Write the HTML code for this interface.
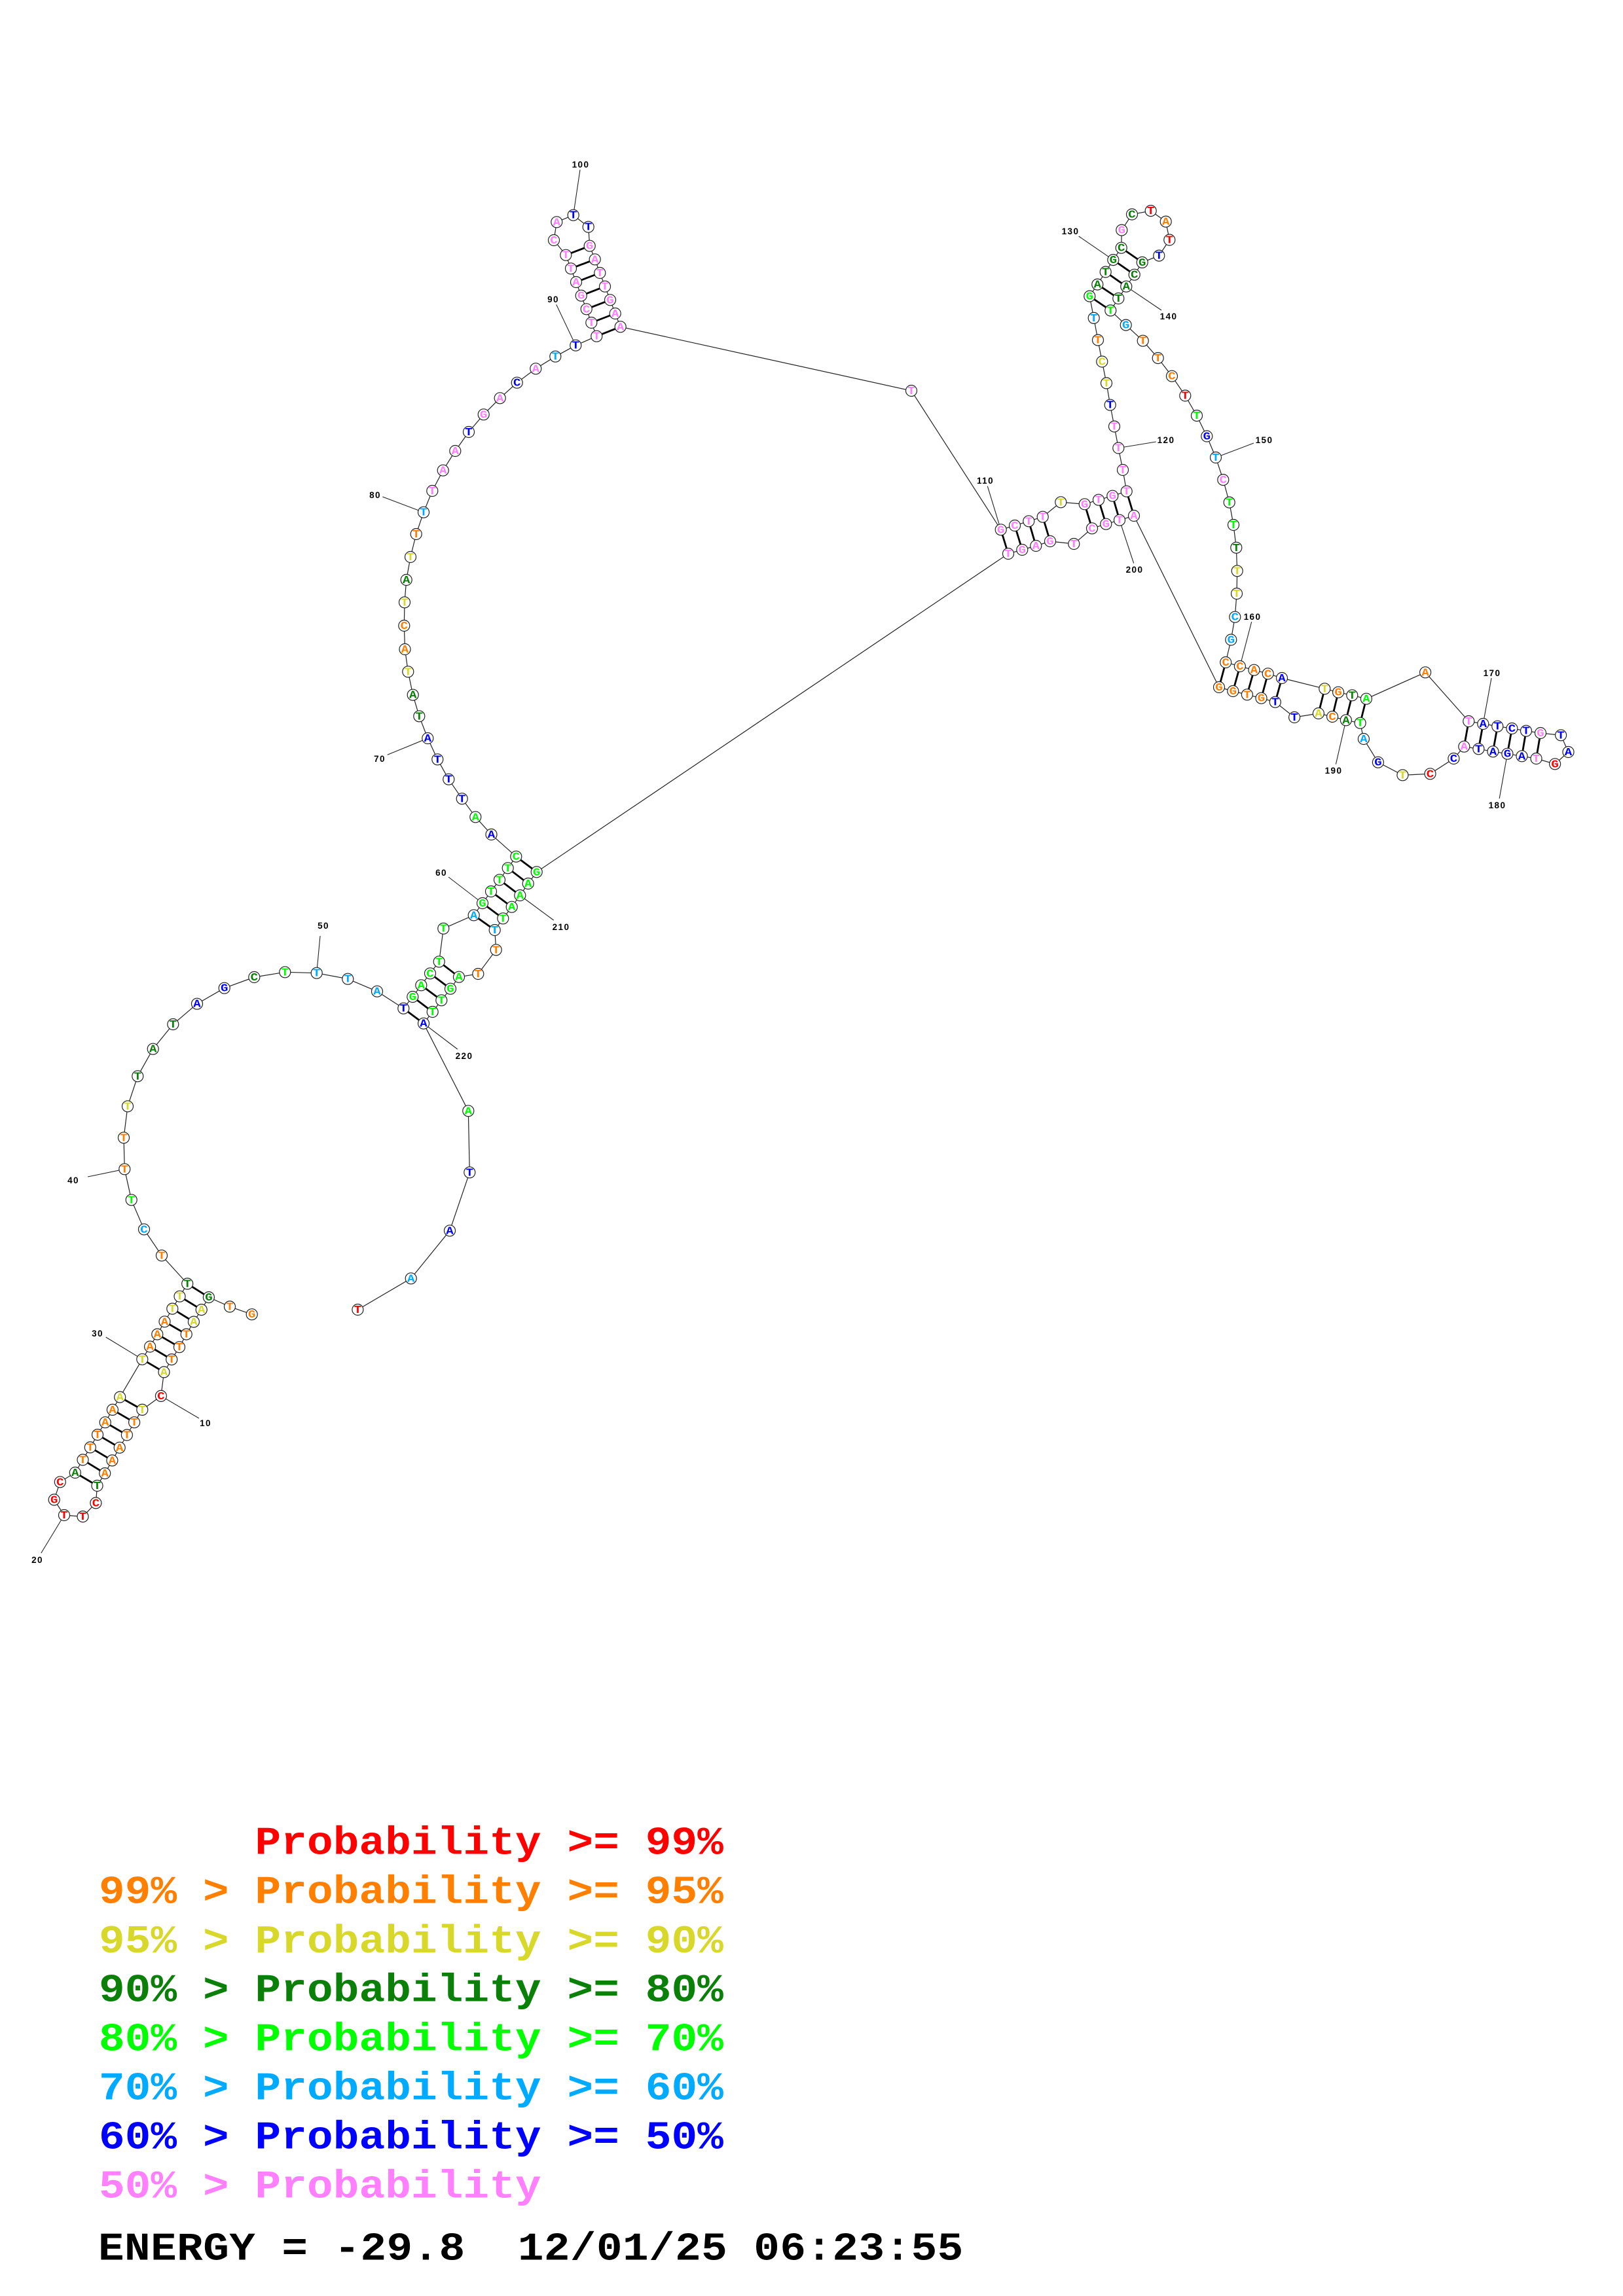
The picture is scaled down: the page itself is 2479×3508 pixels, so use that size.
<!DOCTYPE html>
<html><head><meta charset="utf-8"><title>RNA structure</title>
<style>
html,body{margin:0;padding:0;background:#fff}
svg{display:block}
.bb{fill:none;stroke:#222;stroke-width:1.2}
.pr{stroke:#000;stroke-width:2.8;fill:none}
.ld{stroke:#222;stroke-width:1.1;fill:none}
.n circle{fill:#fff;stroke:#222;stroke-width:1.2}
.n text{font:bold 19px "Liberation Mono",monospace;text-anchor:middle;transform:translateY(.7px) scale(1,.85)}
.r text{fill:#f00}.o text{fill:#ff7f00}.y text{fill:#d8d82a}.d text{fill:#0a8008}.g text{fill:#0f0}.l text{fill:#0af}.b text{fill:#00f}.p text{fill:#ff80ff}
.lb{font:bold 13.5px "Liberation Sans",sans-serif;text-anchor:middle;letter-spacing:1.4px;fill:#000}
.lg{font:bold 66px "Liberation Mono",monospace;white-space:pre;letter-spacing:.15px}
</style></head><body>
<svg width="2479" height="3508" viewBox="0 0 2479 3508" xmlns="http://www.w3.org/2000/svg">
<rect width="2479" height="3508" fill="#fff"/>
<polyline class="bb" points="384.7,2008.2 351,1996.4 318.9,1982.1 307.7,2001.1 295.9,2019.6 284.7,2038.6 274,2058.2 262.2,2077.1 250.5,2096.4 245.9,2132.9 217.3,2153.9 205.1,2173.2 193.9,2192.5 182.7,2211.8 171.4,2231.4 160.2,2251.1 148.5,2270 146.4,2296.4 126.5,2317.1 98,2315 82.7,2291.4 91.8,2264.3 114.8,2250 126.5,2230.4 137.8,2211.4 149,2192.1 160.7,2173.2 171.9,2153.9 183.2,2134.6 217.3,2076.8 229.1,2057.5 240.3,2038.6 251.5,2019.3 263.3,1999.6 274.5,1980.7 286.2,1961.4 247,1918.3 220,1878.3 200.7,1833.3 190.3,1786.3 189,1738.3 195,1690.3 210.3,1644.3 233.7,1602.7 264.3,1565 301,1533.7 342.7,1509.7 388.3,1493 435.3,1485.3 483.7,1486.7 531.3,1495.7 576,1514.7 616.3,1540.7 630.3,1523 643.3,1505.3 657,1487.3 670.7,1469.3 677.3,1418.7 723.7,1398.3 737,1380 750,1362 763,1344.3 775.7,1326.3 788.3,1308.7 750.5,1275 726.3,1248.3 705.7,1220.3 685.3,1190.7 668.3,1160.3 653.3,1128 640.3,1094.3 630.7,1061.7 623.3,1026.3 618.5,992 617.3,956 618,920.3 620.7,886 627,851 635.7,816 647,782.7 660.3,750 676.7,718.7 695.3,689 716,660 738.7,633.3 763.7,608.3 789.7,584.7 818.3,563.3 848.3,544.7 879.3,527.7 911.3,513.7 903.3,493 895.7,472.3 887.7,451.7 880,431 872,410.3 864.3,389.7 846,367 850.3,339.3 875.7,328.7 898.7,346.7 900.7,375.7 908.7,396.3 916.3,417 924,437.7 932,458.3 939.7,479 947.7,499.3 1392,597 1528.7,809.3 1550,803 1571.3,796.3 1592.7,789.7 1620.3,767.3 1656.7,770.3 1678,763.7 1699.3,757.7 1720.7,750.7 1715,718 1708.3,684.5 1702,651.6 1695.7,618.7 1690,585.4 1683.3,552.5 1677,519.6 1670.7,485.9 1664.3,452.6 1676.3,434.6 1688.7,415.5 1700.3,397.1 1712.7,378.7 1713.3,351.6 1729,327.5 1757.7,322.1 1780.7,338.6 1786.3,366.5 1770.3,390.6 1744.7,400.9 1732.7,419.7 1720.3,437.7 1708.3,456 1696.3,474.4 1719.7,496.6 1745.7,520.7 1768.7,547.1 1790,574.7 1810.3,604.5 1828,635.1 1843.3,666.5 1857,699 1868.3,733.1 1877.7,767.6 1884,802 1888.3,836.8 1889.7,872.3 1889,907 1886.3,942.7 1880.3,977.5 1872.2,1012 1893.9,1018 1915.5,1023.7 1936.7,1029.3 1958,1036 2023.3,1052.3 2044.1,1057.7 2065.3,1062.3 2086.9,1067.7 2177.1,1027.3 2243.3,1102 2265.3,1106 2287.3,1109.7 2309.4,1113 2331,1116.7 2353,1120 2384.1,1123.3 2395.5,1149 2375.1,1167.3 2346.5,1159 2324.5,1155.3 2302.4,1151.7 2280.4,1148.3 2258.4,1144.3 2236.3,1140.7 2220.4,1159 2184.5,1182.3 2142.4,1184.3 2104.9,1164.7 2082.9,1129 2077.6,1104.7 2055.9,1100.3 2035.1,1095 2013.9,1090 1977.1,1096 1947.8,1072.7 1926.5,1066.7 1904.9,1061.3 1883.3,1056 1862,1050 1732,788 1710,794.7 1689.3,800.7 1668,807.3 1640.3,831 1604,827 1582.3,834 1561.3,840 1540,846 819.7,1332.3 806.7,1350 794.3,1368 781.7,1385.7 768.3,1403.3 755.7,1421 757.7,1451.3 730.3,1488 701,1492.7 688,1510.7 674.3,1528.3 660.7,1546 647,1563.7 715.3,1697.3 717.3,1791.3 687,1880.3 627.7,1953.3 546.4,2001"/>
<path class="pr" d="M318.9 1982.1L286.2 1961.4M307.7 2001.1L274.5 1980.7M295.9 2019.6L263.3 1999.6M284.7 2038.6L251.5 2019.3M274 2058.2L240.3 2038.6M262.2 2077.1L229.1 2057.5M250.5 2096.4L217.3 2076.8M217.3 2153.9L183.2 2134.6M205.1 2173.2L171.9 2153.9M193.9 2192.5L160.7 2173.2M182.7 2211.8L149 2192.1M171.4 2231.4L137.8 2211.4M160.2 2251.1L126.5 2230.4M148.5 2270L114.8 2250M616.3 1540.7L647 1563.7M630.3 1523L660.7 1546M643.3 1505.3L674.3 1528.3M657 1487.3L688 1510.7M670.7 1469.3L701 1492.7M723.7 1398.3L755.7 1421M737 1380L768.3 1403.3M750 1362L781.7 1385.7M763 1344.3L794.3 1368M775.7 1326.3L806.7 1350M788.3 1308.7L819.7 1332.3M911.3 513.7L947.7 499.3M903.3 493L939.7 479M895.7 472.3L932 458.3M887.7 451.7L924 437.7M880 431L916.3 417M872 410.3L908.7 396.3M864.3 389.7L900.7 375.7M1528.7 809.3L1540 846M1550 803L1561.3 840M1571.3 796.3L1582.3 834M1592.7 789.7L1604 827M1656.7 770.3L1668 807.3M1678 763.7L1689.3 800.7M1699.3 757.7L1710 794.7M1720.7 750.7L1732 788M1664.3 452.6L1696.3 474.4M1676.3 434.6L1708.3 456M1688.7 415.5L1720.3 437.7M1700.3 397.1L1732.7 419.7M1712.7 378.7L1744.7 400.9M1872.2 1012L1862 1050M1893.9 1018L1883.3 1056M1915.5 1023.7L1904.9 1061.3M1936.7 1029.3L1926.5 1066.7M1958 1036L1947.8 1072.7M2023.3 1052.3L2013.9 1090M2044.1 1057.7L2035.1 1095M2065.3 1062.3L2055.9 1100.3M2086.9 1067.7L2077.6 1104.7M2243.3 1102L2236.3 1140.7M2265.3 1106L2258.4 1144.3M2287.3 1109.7L2280.4 1148.3M2309.4 1113L2302.4 1151.7M2331 1116.7L2324.5 1155.3M2353 1120L2346.5 1159"/>
<path class="ld" d="M245.9 2132.9L304 2167M98 2315L62.8 2373M217.3 2076.8L161.7 2043M190.3 1786.3L134 1798M483.7 1486.7L489 1430M737 1380L685 1340M653.3 1128L591.7 1153.3M647 782.7L584.3 759M879.3 527.7L849.7 465.3M875.7 328.7L886 259.3M1528.7 809.3L1508.3 742.7M1708.3 684.5L1765.7 675M1700.3 397.1L1647.7 361M1720.3 437.7L1774 474M1857 699L1915 677M1893.9 1018L1911.7 950M2265.3 1106L2278 1036M2302.4 1151.7L2290.2 1220M2055.9 1100.3L2040.4 1167.7M1710 794.7L1731.7 860.7M794.3 1368L845.7 1406M647 1563.7L698.7 1603"/>
<g>
<g class="n o" transform="translate(384.7,2008.2)"><circle r="8.5"/><text y="5">G</text></g>
<g class="n o" transform="translate(351,1996.4)"><circle r="8.5"/><text y="5">T</text></g>
<g class="n d" transform="translate(318.9,1982.1)"><circle r="8.5"/><text y="5">G</text></g>
<g class="n y" transform="translate(307.7,2001.1)"><circle r="8.5"/><text y="5">A</text></g>
<g class="n y" transform="translate(295.9,2019.6)"><circle r="8.5"/><text y="5">A</text></g>
<g class="n o" transform="translate(284.7,2038.6)"><circle r="8.5"/><text y="5">T</text></g>
<g class="n o" transform="translate(274,2058.2)"><circle r="8.5"/><text y="5">T</text></g>
<g class="n o" transform="translate(262.2,2077.1)"><circle r="8.5"/><text y="5">T</text></g>
<g class="n y" transform="translate(250.5,2096.4)"><circle r="8.5"/><text y="5">A</text></g>
<g class="n r" transform="translate(245.9,2132.9)"><circle r="8.5"/><text y="5">C</text></g>
<g class="n y" transform="translate(217.3,2153.9)"><circle r="8.5"/><text y="5">T</text></g>
<g class="n o" transform="translate(205.1,2173.2)"><circle r="8.5"/><text y="5">T</text></g>
<g class="n o" transform="translate(193.9,2192.5)"><circle r="8.5"/><text y="5">T</text></g>
<g class="n o" transform="translate(182.7,2211.8)"><circle r="8.5"/><text y="5">A</text></g>
<g class="n o" transform="translate(171.4,2231.4)"><circle r="8.5"/><text y="5">A</text></g>
<g class="n o" transform="translate(160.2,2251.1)"><circle r="8.5"/><text y="5">A</text></g>
<g class="n d" transform="translate(148.5,2270)"><circle r="8.5"/><text y="5">T</text></g>
<g class="n r" transform="translate(146.4,2296.4)"><circle r="8.5"/><text y="5">C</text></g>
<g class="n r" transform="translate(126.5,2317.1)"><circle r="8.5"/><text y="5">T</text></g>
<g class="n r" transform="translate(98,2315)"><circle r="8.5"/><text y="5">T</text></g>
<g class="n r" transform="translate(82.7,2291.4)"><circle r="8.5"/><text y="5">G</text></g>
<g class="n r" transform="translate(91.8,2264.3)"><circle r="8.5"/><text y="5">C</text></g>
<g class="n d" transform="translate(114.8,2250)"><circle r="8.5"/><text y="5">A</text></g>
<g class="n o" transform="translate(126.5,2230.4)"><circle r="8.5"/><text y="5">T</text></g>
<g class="n o" transform="translate(137.8,2211.4)"><circle r="8.5"/><text y="5">T</text></g>
<g class="n o" transform="translate(149,2192.1)"><circle r="8.5"/><text y="5">T</text></g>
<g class="n o" transform="translate(160.7,2173.2)"><circle r="8.5"/><text y="5">A</text></g>
<g class="n o" transform="translate(171.9,2153.9)"><circle r="8.5"/><text y="5">A</text></g>
<g class="n y" transform="translate(183.2,2134.6)"><circle r="8.5"/><text y="5">A</text></g>
<g class="n y" transform="translate(217.3,2076.8)"><circle r="8.5"/><text y="5">T</text></g>
<g class="n o" transform="translate(229.1,2057.5)"><circle r="8.5"/><text y="5">A</text></g>
<g class="n o" transform="translate(240.3,2038.6)"><circle r="8.5"/><text y="5">A</text></g>
<g class="n o" transform="translate(251.5,2019.3)"><circle r="8.5"/><text y="5">A</text></g>
<g class="n y" transform="translate(263.3,1999.6)"><circle r="8.5"/><text y="5">T</text></g>
<g class="n y" transform="translate(274.5,1980.7)"><circle r="8.5"/><text y="5">T</text></g>
<g class="n d" transform="translate(286.2,1961.4)"><circle r="8.5"/><text y="5">T</text></g>
<g class="n o" transform="translate(247,1918.3)"><circle r="8.5"/><text y="5">T</text></g>
<g class="n l" transform="translate(220,1878.3)"><circle r="8.5"/><text y="5">C</text></g>
<g class="n g" transform="translate(200.7,1833.3)"><circle r="8.5"/><text y="5">T</text></g>
<g class="n o" transform="translate(190.3,1786.3)"><circle r="8.5"/><text y="5">T</text></g>
<g class="n o" transform="translate(189,1738.3)"><circle r="8.5"/><text y="5">T</text></g>
<g class="n y" transform="translate(195,1690.3)"><circle r="8.5"/><text y="5">T</text></g>
<g class="n d" transform="translate(210.3,1644.3)"><circle r="8.5"/><text y="5">T</text></g>
<g class="n d" transform="translate(233.7,1602.7)"><circle r="8.5"/><text y="5">A</text></g>
<g class="n d" transform="translate(264.3,1565)"><circle r="8.5"/><text y="5">T</text></g>
<g class="n b" transform="translate(301,1533.7)"><circle r="8.5"/><text y="5">A</text></g>
<g class="n b" transform="translate(342.7,1509.7)"><circle r="8.5"/><text y="5">G</text></g>
<g class="n d" transform="translate(388.3,1493)"><circle r="8.5"/><text y="5">C</text></g>
<g class="n g" transform="translate(435.3,1485.3)"><circle r="8.5"/><text y="5">T</text></g>
<g class="n l" transform="translate(483.7,1486.7)"><circle r="8.5"/><text y="5">T</text></g>
<g class="n l" transform="translate(531.3,1495.7)"><circle r="8.5"/><text y="5">T</text></g>
<g class="n l" transform="translate(576,1514.7)"><circle r="8.5"/><text y="5">A</text></g>
<g class="n b" transform="translate(616.3,1540.7)"><circle r="8.5"/><text y="5">T</text></g>
<g class="n g" transform="translate(630.3,1523)"><circle r="8.5"/><text y="5">G</text></g>
<g class="n g" transform="translate(643.3,1505.3)"><circle r="8.5"/><text y="5">A</text></g>
<g class="n g" transform="translate(657,1487.3)"><circle r="8.5"/><text y="5">C</text></g>
<g class="n g" transform="translate(670.7,1469.3)"><circle r="8.5"/><text y="5">T</text></g>
<g class="n g" transform="translate(677.3,1418.7)"><circle r="8.5"/><text y="5">T</text></g>
<g class="n l" transform="translate(723.7,1398.3)"><circle r="8.5"/><text y="5">A</text></g>
<g class="n g" transform="translate(737,1380)"><circle r="8.5"/><text y="5">G</text></g>
<g class="n g" transform="translate(750,1362)"><circle r="8.5"/><text y="5">T</text></g>
<g class="n g" transform="translate(763,1344.3)"><circle r="8.5"/><text y="5">T</text></g>
<g class="n g" transform="translate(775.7,1326.3)"><circle r="8.5"/><text y="5">T</text></g>
<g class="n g" transform="translate(788.3,1308.7)"><circle r="8.5"/><text y="5">C</text></g>
<g class="n b" transform="translate(750.5,1275)"><circle r="8.5"/><text y="5">A</text></g>
<g class="n g" transform="translate(726.3,1248.3)"><circle r="8.5"/><text y="5">A</text></g>
<g class="n b" transform="translate(705.7,1220.3)"><circle r="8.5"/><text y="5">T</text></g>
<g class="n b" transform="translate(685.3,1190.7)"><circle r="8.5"/><text y="5">T</text></g>
<g class="n b" transform="translate(668.3,1160.3)"><circle r="8.5"/><text y="5">T</text></g>
<g class="n b" transform="translate(653.3,1128)"><circle r="8.5"/><text y="5">A</text></g>
<g class="n d" transform="translate(640.3,1094.3)"><circle r="8.5"/><text y="5">T</text></g>
<g class="n d" transform="translate(630.7,1061.7)"><circle r="8.5"/><text y="5">A</text></g>
<g class="n y" transform="translate(623.3,1026.3)"><circle r="8.5"/><text y="5">T</text></g>
<g class="n o" transform="translate(618.5,992)"><circle r="8.5"/><text y="5">A</text></g>
<g class="n o" transform="translate(617.3,956)"><circle r="8.5"/><text y="5">C</text></g>
<g class="n y" transform="translate(618,920.3)"><circle r="8.5"/><text y="5">T</text></g>
<g class="n d" transform="translate(620.7,886)"><circle r="8.5"/><text y="5">A</text></g>
<g class="n y" transform="translate(627,851)"><circle r="8.5"/><text y="5">T</text></g>
<g class="n o" transform="translate(635.7,816)"><circle r="8.5"/><text y="5">T</text></g>
<g class="n l" transform="translate(647,782.7)"><circle r="8.5"/><text y="5">T</text></g>
<g class="n p" transform="translate(660.3,750)"><circle r="8.5"/><text y="5">T</text></g>
<g class="n p" transform="translate(676.7,718.7)"><circle r="8.5"/><text y="5">A</text></g>
<g class="n p" transform="translate(695.3,689)"><circle r="8.5"/><text y="5">A</text></g>
<g class="n b" transform="translate(716,660)"><circle r="8.5"/><text y="5">T</text></g>
<g class="n p" transform="translate(738.7,633.3)"><circle r="8.5"/><text y="5">G</text></g>
<g class="n p" transform="translate(763.7,608.3)"><circle r="8.5"/><text y="5">A</text></g>
<g class="n b" transform="translate(789.7,584.7)"><circle r="8.5"/><text y="5">C</text></g>
<g class="n p" transform="translate(818.3,563.3)"><circle r="8.5"/><text y="5">A</text></g>
<g class="n l" transform="translate(848.3,544.7)"><circle r="8.5"/><text y="5">T</text></g>
<g class="n b" transform="translate(879.3,527.7)"><circle r="8.5"/><text y="5">T</text></g>
<g class="n p" transform="translate(911.3,513.7)"><circle r="8.5"/><text y="5">T</text></g>
<g class="n p" transform="translate(903.3,493)"><circle r="8.5"/><text y="5">T</text></g>
<g class="n p" transform="translate(895.7,472.3)"><circle r="8.5"/><text y="5">C</text></g>
<g class="n p" transform="translate(887.7,451.7)"><circle r="8.5"/><text y="5">G</text></g>
<g class="n p" transform="translate(880,431)"><circle r="8.5"/><text y="5">A</text></g>
<g class="n p" transform="translate(872,410.3)"><circle r="8.5"/><text y="5">T</text></g>
<g class="n p" transform="translate(864.3,389.7)"><circle r="8.5"/><text y="5">T</text></g>
<g class="n p" transform="translate(846,367)"><circle r="8.5"/><text y="5">C</text></g>
<g class="n p" transform="translate(850.3,339.3)"><circle r="8.5"/><text y="5">A</text></g>
<g class="n b" transform="translate(875.7,328.7)"><circle r="8.5"/><text y="5">T</text></g>
<g class="n b" transform="translate(898.7,346.7)"><circle r="8.5"/><text y="5">T</text></g>
<g class="n p" transform="translate(900.7,375.7)"><circle r="8.5"/><text y="5">G</text></g>
<g class="n p" transform="translate(908.7,396.3)"><circle r="8.5"/><text y="5">A</text></g>
<g class="n p" transform="translate(916.3,417)"><circle r="8.5"/><text y="5">T</text></g>
<g class="n p" transform="translate(924,437.7)"><circle r="8.5"/><text y="5">T</text></g>
<g class="n p" transform="translate(932,458.3)"><circle r="8.5"/><text y="5">G</text></g>
<g class="n p" transform="translate(939.7,479)"><circle r="8.5"/><text y="5">A</text></g>
<g class="n p" transform="translate(947.7,499.3)"><circle r="8.5"/><text y="5">A</text></g>
<g class="n p" transform="translate(1392,597)"><circle r="8.5"/><text y="5">T</text></g>
<g class="n p" transform="translate(1528.7,809.3)"><circle r="8.5"/><text y="5">G</text></g>
<g class="n p" transform="translate(1550,803)"><circle r="8.5"/><text y="5">C</text></g>
<g class="n p" transform="translate(1571.3,796.3)"><circle r="8.5"/><text y="5">T</text></g>
<g class="n p" transform="translate(1592.7,789.7)"><circle r="8.5"/><text y="5">T</text></g>
<g class="n y" transform="translate(1620.3,767.3)"><circle r="8.5"/><text y="5">T</text></g>
<g class="n p" transform="translate(1656.7,770.3)"><circle r="8.5"/><text y="5">G</text></g>
<g class="n p" transform="translate(1678,763.7)"><circle r="8.5"/><text y="5">T</text></g>
<g class="n p" transform="translate(1699.3,757.7)"><circle r="8.5"/><text y="5">G</text></g>
<g class="n p" transform="translate(1720.7,750.7)"><circle r="8.5"/><text y="5">T</text></g>
<g class="n p" transform="translate(1715,718)"><circle r="8.5"/><text y="5">T</text></g>
<g class="n p" transform="translate(1708.3,684.5)"><circle r="8.5"/><text y="5">T</text></g>
<g class="n p" transform="translate(1702,651.6)"><circle r="8.5"/><text y="5">T</text></g>
<g class="n b" transform="translate(1695.7,618.7)"><circle r="8.5"/><text y="5">T</text></g>
<g class="n y" transform="translate(1690,585.4)"><circle r="8.5"/><text y="5">T</text></g>
<g class="n y" transform="translate(1683.3,552.5)"><circle r="8.5"/><text y="5">C</text></g>
<g class="n o" transform="translate(1677,519.6)"><circle r="8.5"/><text y="5">T</text></g>
<g class="n l" transform="translate(1670.7,485.9)"><circle r="8.5"/><text y="5">T</text></g>
<g class="n g" transform="translate(1664.3,452.6)"><circle r="8.5"/><text y="5">G</text></g>
<g class="n d" transform="translate(1676.3,434.6)"><circle r="8.5"/><text y="5">A</text></g>
<g class="n d" transform="translate(1688.7,415.5)"><circle r="8.5"/><text y="5">T</text></g>
<g class="n d" transform="translate(1700.3,397.1)"><circle r="8.5"/><text y="5">G</text></g>
<g class="n d" transform="translate(1712.7,378.7)"><circle r="8.5"/><text y="5">C</text></g>
<g class="n p" transform="translate(1713.3,351.6)"><circle r="8.5"/><text y="5">G</text></g>
<g class="n d" transform="translate(1729,327.5)"><circle r="8.5"/><text y="5">C</text></g>
<g class="n r" transform="translate(1757.7,322.1)"><circle r="8.5"/><text y="5">T</text></g>
<g class="n o" transform="translate(1780.7,338.6)"><circle r="8.5"/><text y="5">A</text></g>
<g class="n r" transform="translate(1786.3,366.5)"><circle r="8.5"/><text y="5">T</text></g>
<g class="n b" transform="translate(1770.3,390.6)"><circle r="8.5"/><text y="5">T</text></g>
<g class="n d" transform="translate(1744.7,400.9)"><circle r="8.5"/><text y="5">G</text></g>
<g class="n d" transform="translate(1732.7,419.7)"><circle r="8.5"/><text y="5">C</text></g>
<g class="n d" transform="translate(1720.3,437.7)"><circle r="8.5"/><text y="5">A</text></g>
<g class="n d" transform="translate(1708.3,456)"><circle r="8.5"/><text y="5">T</text></g>
<g class="n g" transform="translate(1696.3,474.4)"><circle r="8.5"/><text y="5">T</text></g>
<g class="n l" transform="translate(1719.7,496.6)"><circle r="8.5"/><text y="5">G</text></g>
<g class="n o" transform="translate(1745.7,520.7)"><circle r="8.5"/><text y="5">T</text></g>
<g class="n o" transform="translate(1768.7,547.1)"><circle r="8.5"/><text y="5">T</text></g>
<g class="n o" transform="translate(1790,574.7)"><circle r="8.5"/><text y="5">C</text></g>
<g class="n r" transform="translate(1810.3,604.5)"><circle r="8.5"/><text y="5">T</text></g>
<g class="n g" transform="translate(1828,635.1)"><circle r="8.5"/><text y="5">T</text></g>
<g class="n b" transform="translate(1843.3,666.5)"><circle r="8.5"/><text y="5">G</text></g>
<g class="n l" transform="translate(1857,699)"><circle r="8.5"/><text y="5">T</text></g>
<g class="n p" transform="translate(1868.3,733.1)"><circle r="8.5"/><text y="5">C</text></g>
<g class="n g" transform="translate(1877.7,767.6)"><circle r="8.5"/><text y="5">T</text></g>
<g class="n g" transform="translate(1884,802)"><circle r="8.5"/><text y="5">T</text></g>
<g class="n d" transform="translate(1888.3,836.8)"><circle r="8.5"/><text y="5">T</text></g>
<g class="n y" transform="translate(1889.7,872.3)"><circle r="8.5"/><text y="5">T</text></g>
<g class="n y" transform="translate(1889,907)"><circle r="8.5"/><text y="5">T</text></g>
<g class="n l" transform="translate(1886.3,942.7)"><circle r="8.5"/><text y="5">C</text></g>
<g class="n l" transform="translate(1880.3,977.5)"><circle r="8.5"/><text y="5">G</text></g>
<g class="n o" transform="translate(1872.2,1012)"><circle r="8.5"/><text y="5">C</text></g>
<g class="n o" transform="translate(1893.9,1018)"><circle r="8.5"/><text y="5">C</text></g>
<g class="n o" transform="translate(1915.5,1023.7)"><circle r="8.5"/><text y="5">A</text></g>
<g class="n o" transform="translate(1936.7,1029.3)"><circle r="8.5"/><text y="5">C</text></g>
<g class="n b" transform="translate(1958,1036)"><circle r="8.5"/><text y="5">A</text></g>
<g class="n y" transform="translate(2023.3,1052.3)"><circle r="8.5"/><text y="5">T</text></g>
<g class="n o" transform="translate(2044.1,1057.7)"><circle r="8.5"/><text y="5">G</text></g>
<g class="n d" transform="translate(2065.3,1062.3)"><circle r="8.5"/><text y="5">T</text></g>
<g class="n g" transform="translate(2086.9,1067.7)"><circle r="8.5"/><text y="5">A</text></g>
<g class="n o" transform="translate(2177.1,1027.3)"><circle r="8.5"/><text y="5">A</text></g>
<g class="n p" transform="translate(2243.3,1102)"><circle r="8.5"/><text y="5">T</text></g>
<g class="n b" transform="translate(2265.3,1106)"><circle r="8.5"/><text y="5">A</text></g>
<g class="n b" transform="translate(2287.3,1109.7)"><circle r="8.5"/><text y="5">T</text></g>
<g class="n b" transform="translate(2309.4,1113)"><circle r="8.5"/><text y="5">C</text></g>
<g class="n b" transform="translate(2331,1116.7)"><circle r="8.5"/><text y="5">T</text></g>
<g class="n p" transform="translate(2353,1120)"><circle r="8.5"/><text y="5">G</text></g>
<g class="n b" transform="translate(2384.1,1123.3)"><circle r="8.5"/><text y="5">T</text></g>
<g class="n b" transform="translate(2395.5,1149)"><circle r="8.5"/><text y="5">A</text></g>
<g class="n r" transform="translate(2375.1,1167.3)"><circle r="8.5"/><text y="5">G</text></g>
<g class="n p" transform="translate(2346.5,1159)"><circle r="8.5"/><text y="5">T</text></g>
<g class="n b" transform="translate(2324.5,1155.3)"><circle r="8.5"/><text y="5">A</text></g>
<g class="n b" transform="translate(2302.4,1151.7)"><circle r="8.5"/><text y="5">G</text></g>
<g class="n b" transform="translate(2280.4,1148.3)"><circle r="8.5"/><text y="5">A</text></g>
<g class="n b" transform="translate(2258.4,1144.3)"><circle r="8.5"/><text y="5">T</text></g>
<g class="n p" transform="translate(2236.3,1140.7)"><circle r="8.5"/><text y="5">A</text></g>
<g class="n b" transform="translate(2220.4,1159)"><circle r="8.5"/><text y="5">C</text></g>
<g class="n r" transform="translate(2184.5,1182.3)"><circle r="8.5"/><text y="5">C</text></g>
<g class="n y" transform="translate(2142.4,1184.3)"><circle r="8.5"/><text y="5">T</text></g>
<g class="n b" transform="translate(2104.9,1164.7)"><circle r="8.5"/><text y="5">G</text></g>
<g class="n l" transform="translate(2082.9,1129)"><circle r="8.5"/><text y="5">A</text></g>
<g class="n g" transform="translate(2077.6,1104.7)"><circle r="8.5"/><text y="5">T</text></g>
<g class="n d" transform="translate(2055.9,1100.3)"><circle r="8.5"/><text y="5">A</text></g>
<g class="n o" transform="translate(2035.1,1095)"><circle r="8.5"/><text y="5">C</text></g>
<g class="n y" transform="translate(2013.9,1090)"><circle r="8.5"/><text y="5">A</text></g>
<g class="n b" transform="translate(1977.1,1096)"><circle r="8.5"/><text y="5">T</text></g>
<g class="n b" transform="translate(1947.8,1072.7)"><circle r="8.5"/><text y="5">T</text></g>
<g class="n o" transform="translate(1926.5,1066.7)"><circle r="8.5"/><text y="5">G</text></g>
<g class="n o" transform="translate(1904.9,1061.3)"><circle r="8.5"/><text y="5">T</text></g>
<g class="n o" transform="translate(1883.3,1056)"><circle r="8.5"/><text y="5">G</text></g>
<g class="n o" transform="translate(1862,1050)"><circle r="8.5"/><text y="5">G</text></g>
<g class="n p" transform="translate(1732,788)"><circle r="8.5"/><text y="5">A</text></g>
<g class="n p" transform="translate(1710,794.7)"><circle r="8.5"/><text y="5">T</text></g>
<g class="n p" transform="translate(1689.3,800.7)"><circle r="8.5"/><text y="5">G</text></g>
<g class="n p" transform="translate(1668,807.3)"><circle r="8.5"/><text y="5">C</text></g>
<g class="n p" transform="translate(1640.3,831)"><circle r="8.5"/><text y="5">T</text></g>
<g class="n p" transform="translate(1604,827)"><circle r="8.5"/><text y="5">G</text></g>
<g class="n p" transform="translate(1582.3,834)"><circle r="8.5"/><text y="5">A</text></g>
<g class="n p" transform="translate(1561.3,840)"><circle r="8.5"/><text y="5">G</text></g>
<g class="n p" transform="translate(1540,846)"><circle r="8.5"/><text y="5">T</text></g>
<g class="n g" transform="translate(819.7,1332.3)"><circle r="8.5"/><text y="5">G</text></g>
<g class="n g" transform="translate(806.7,1350)"><circle r="8.5"/><text y="5">A</text></g>
<g class="n g" transform="translate(794.3,1368)"><circle r="8.5"/><text y="5">A</text></g>
<g class="n g" transform="translate(781.7,1385.7)"><circle r="8.5"/><text y="5">A</text></g>
<g class="n g" transform="translate(768.3,1403.3)"><circle r="8.5"/><text y="5">T</text></g>
<g class="n l" transform="translate(755.7,1421)"><circle r="8.5"/><text y="5">T</text></g>
<g class="n o" transform="translate(757.7,1451.3)"><circle r="8.5"/><text y="5">T</text></g>
<g class="n o" transform="translate(730.3,1488)"><circle r="8.5"/><text y="5">T</text></g>
<g class="n g" transform="translate(701,1492.7)"><circle r="8.5"/><text y="5">A</text></g>
<g class="n g" transform="translate(688,1510.7)"><circle r="8.5"/><text y="5">G</text></g>
<g class="n g" transform="translate(674.3,1528.3)"><circle r="8.5"/><text y="5">T</text></g>
<g class="n g" transform="translate(660.7,1546)"><circle r="8.5"/><text y="5">T</text></g>
<g class="n b" transform="translate(647,1563.7)"><circle r="8.5"/><text y="5">A</text></g>
<g class="n g" transform="translate(715.3,1697.3)"><circle r="8.5"/><text y="5">A</text></g>
<g class="n b" transform="translate(717.3,1791.3)"><circle r="8.5"/><text y="5">T</text></g>
<g class="n b" transform="translate(687,1880.3)"><circle r="8.5"/><text y="5">A</text></g>
<g class="n l" transform="translate(627.7,1953.3)"><circle r="8.5"/><text y="5">A</text></g>
<g class="n r" transform="translate(546.4,2001)"><circle r="8.5"/><text y="5">T</text></g>
</g>
<g class="lb">
<text x="314" y="2179">10</text>
<text x="57" y="2388">20</text>
<text x="149" y="2042">30</text>
<text x="112" y="1808">40</text>
<text x="494" y="1419">50</text>
<text x="674" y="1338">60</text>
<text x="580" y="1164">70</text>
<text x="573" y="761">80</text>
<text x="845" y="462">90</text>
<text x="887" y="256">100</text>
<text x="1505" y="739">110</text>
<text x="1781" y="677">120</text>
<text x="1635" y="358">130</text>
<text x="1785" y="488">140</text>
<text x="1931" y="677">150</text>
<text x="1913" y="947">160</text>
<text x="2279" y="1033">170</text>
<text x="2287" y="1235">180</text>
<text x="2037" y="1182">190</text>
<text x="1733" y="875">200</text>
<text x="857" y="1421">210</text>
<text x="709" y="1618">220</text>
</g>
<g class="lg" xml:space="preserve">
<text transform="translate(151,2832.5) scale(1,.92)" fill="#f00" xml:space="preserve">      Probability &gt;= 99%</text>
<text transform="translate(151,2907.4) scale(1,.92)" fill="#ff7f00" xml:space="preserve">99% &gt; Probability &gt;= 95%</text>
<text transform="translate(151,2982.8) scale(1,.92)" fill="#d8d82a" xml:space="preserve">95% &gt; Probability &gt;= 90%</text>
<text transform="translate(151,3057.7) scale(1,.92)" fill="#0a8008" xml:space="preserve">90% &gt; Probability &gt;= 80%</text>
<text transform="translate(151,3132.6) scale(1,.92)" fill="#0f0" xml:space="preserve">80% &gt; Probability &gt;= 70%</text>
<text transform="translate(151,3207.5) scale(1,.92)" fill="#0af" xml:space="preserve">70% &gt; Probability &gt;= 60%</text>
<text transform="translate(151,3282.4) scale(1,.92)" fill="#00f" xml:space="preserve">60% &gt; Probability &gt;= 50%</text>
<text transform="translate(151,3357.3) scale(1,.92)" fill="#ff80ff" xml:space="preserve">50% &gt; Probability</text>
<text transform="translate(150,3452.7) scale(1,.92)" fill="#000" xml:space="preserve" style="letter-spacing:.45px">ENERGY = -29.8  12/01/25 06:23:55</text>
</g>
</svg>
</body></html>
